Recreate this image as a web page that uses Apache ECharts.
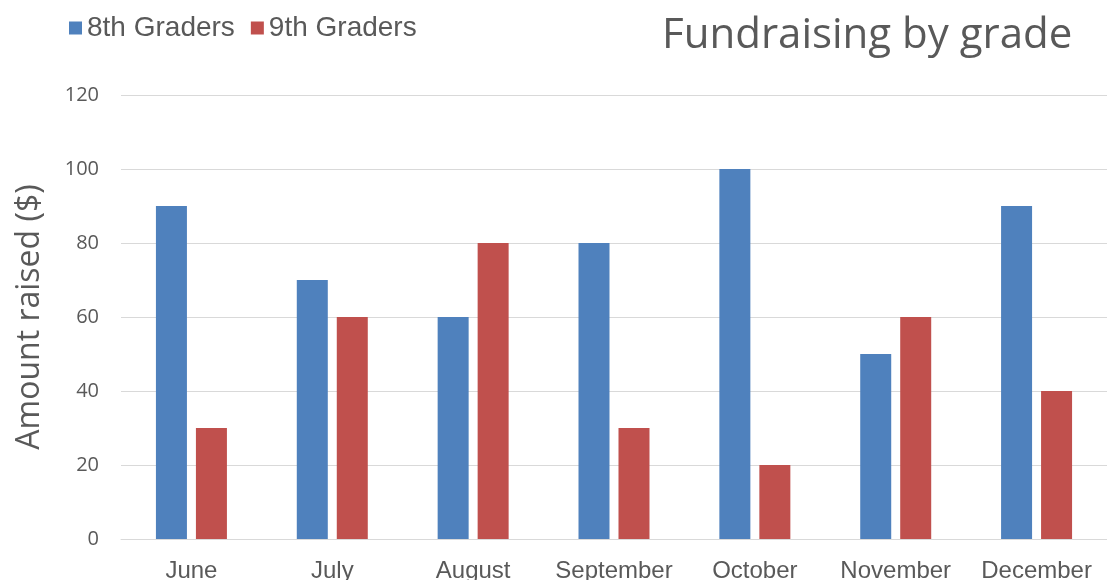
<!DOCTYPE html>
<html>
<head>
<meta charset="utf-8">
<script src="https://cdn.jsdelivr.net/npm/echarts@6/dist/echarts.min.js"></script>
<style>html,body{margin:0;padding:0;background:#fff;}#c{width:1107px;height:580px;}</style>
</head>
<body>
<div id="c"></div>
<script>
const months = ['June','July','August','September','October','November','December'];
const grade8 = [90, 70, 60, 80, 100, 50, 90];
const grade9 = [30, 60, 80, 30, 20, 60, 40];
const seriesNames = ['8th Graders', '9th Graders'];
const yTicks = [0, 20, 40, 60, 80, 100, 120];

const chart = echarts.init(document.getElementById('c'));
chart.setOption({
  animation: false,
  backgroundColor: '#ffffff',
  title: {
    text: 'Fundraising by grade',
    left: 657, top: 10,
    textStyle: {fontFamily: 'Open Sans', fontSize: 42, fontWeight: 'normal', color: '#595959'}
  },
  legend: {
    left: 64, top: 9,
    itemWidth: 13, itemHeight: 13, itemGap: 16,
    icon: 'rect',
    textStyle: {fontFamily: 'Liberation Sans', fontSize: 28, color: '#595959'},
    data: seriesNames
  },
  grid: {left: 121, right: 0, top: 95, bottom: 41, outerBoundsMode: 'none', containLabel: false},
  xAxis: {
    type: 'category',
    data: months,
    axisLine: {lineStyle: {color: '#d9d9d9', width: 1}},
    axisTick: {show: false},
    axisLabel: {interval: 0, hideOverlap: false, fontFamily: 'Liberation Sans', fontSize: 24, color: '#595959', margin: 20}
  },
  yAxis: {
    type: 'value',
    min: yTicks[0], max: yTicks[yTicks.length-1], interval: 20,
    name: 'Amount raised ($)',
    nameLocation: 'middle',
    nameGap: 75,
    nameTextStyle: {fontFamily: 'Open Sans', fontSize: 32, color: '#595959'},
    axisLine: {show: false},
    axisTick: {show: false},
    splitLine: {lineStyle: {color: '#d9d9d9', width: 1}},
    axisLabel: {fontFamily: 'Open Sans', fontSize: 20, color: '#595959', margin: 22}
  },
  series: [
    {name: seriesNames[0], type: 'bar', data: grade8, barWidth: 31, barGap: '29%', itemStyle: {color: '#4f81bd'}},
    {name: seriesNames[1], type: 'bar', data: grade9, barWidth: 31, itemStyle: {color: '#c0504d'}}
  ]
});
</script>
</body>
</html>
